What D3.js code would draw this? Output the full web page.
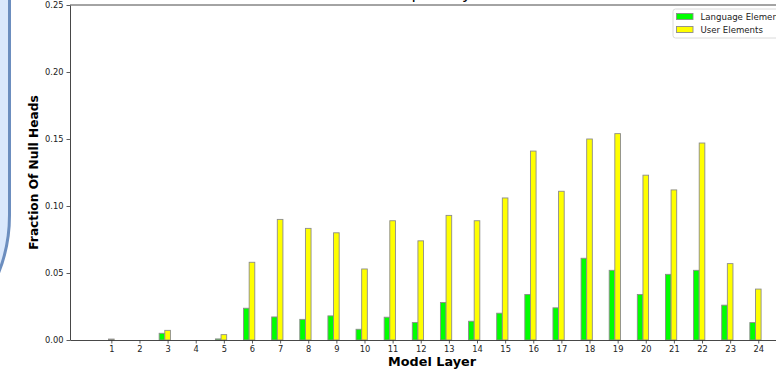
<!DOCTYPE html>
<html>
<head>
<meta charset="utf-8">
<script src="https://cdn.jsdelivr.net/npm/d3@7"></script>
<style>
  body { margin: 0; background: #fff; }
  svg { display: block; font-family: "DejaVu Sans", sans-serif; }
</style>
</head>
<body>
<svg id="chart" width="776" height="370"></svg>
<script>
// layers on the x axis
const layers = [1, 2, 3, 4, 5, 6, 7, 8, 9, 10, 11, 12, 13, 14, 15, 16, 17, 18, 19, 20, 21, 22, 23, 24];

// fraction of null heads per layer
const languageElements = [0, 0, 0.005, 0, 0.0008, 0.0237, 0.0172, 0.0154, 0.018, 0.008, 0.017, 0.013,
  0.028, 0.014, 0.020, 0.034, 0.024, 0.061, 0.052, 0.034, 0.049, 0.052, 0.026, 0.013];
const userElements = [0.0007, 0, 0.0072, 0, 0.004, 0.058, 0.090, 0.0833, 0.080, 0.053, 0.089, 0.074,
  0.093, 0.089, 0.106, 0.141, 0.111, 0.150, 0.154, 0.123, 0.112, 0.147, 0.057, 0.038];

const yTicks = [0, 0.05, 0.10, 0.15, 0.20, 0.25];
const seriesNames = ['Language Elements', 'User Elements'];
const seriesColors = ['#00ff00', '#ffff00'];

const svg = d3.select('#chart');

// decorative panel cut off at the left edge
svg.append('path')
  .attr('d', 'M-20,-10 H9.5 V215 A156,156 0 0 1 -20,306.3 Z')
  .attr('fill', '#dae8fc')
  .attr('stroke', '#6c8ebf')
  .attr('stroke-width', 3);

// plot area
const plotLeft = 70, plotRight = 794, plotTop = 5, plotBottom = 340;
const barW = 0.2;

const x = d3.scaleLinear().domain([-0.47, 25.27]).range([plotLeft, plotRight]);
const y = d3.scaleLinear().domain([0, 0.25]).range([plotBottom, plotTop]);

const g = svg.append('g');

// bars: green sits left of the tick, yellow centred on it
const series = [languageElements, userElements];
series.forEach((vals, si) => {
  g.selectAll('.bar-' + si)
    .data(layers)
    .enter()
    .append('rect')
    .attr('class', 'bar-' + si)
    .attr('x', d => x(d - barW * 1.5 + si * barW))
    .attr('width', x(barW) - x(0))
    .attr('y', (d, i) => y(vals[i]))
    .attr('height', (d, i) => y(0) - y(vals[i]))
    .attr('fill', seriesColors[si])
    .attr('stroke', '#8c8c8c')
    .attr('stroke-width', 0.9);
});

// axes
const xAxis = g.append('g')
  .attr('transform', `translate(0,${plotBottom})`)
  .call(d3.axisBottom(x).tickValues(layers).tickSize(3.5).tickSizeOuter(0).tickPadding(3));

const yAxis = g.append('g')
  .attr('transform', `translate(${plotLeft},0)`)
  .call(d3.axisLeft(y).tickValues(yTicks).tickFormat(d3.format('.2f')).tickSize(3.5).tickSizeOuter(0).tickPadding(3));

[xAxis, yAxis].forEach(a => {
  a.selectAll('text').attr('font-size', '8.3px').attr('fill', '#222').attr('font-family', '"DejaVu Sans", sans-serif');
  a.selectAll('line').attr('stroke', '#333').attr('stroke-width', 0.8);
  a.select('.domain').attr('stroke', '#333').attr('stroke-width', 0.9);
});

// top and right spines
g.append('line')
  .attr('x1', plotLeft).attr('x2', plotRight)
  .attr('y1', plotTop).attr('y2', plotTop)
  .attr('stroke', '#333').attr('stroke-width', 0.9);
g.append('line')
  .attr('x1', plotRight).attr('x2', plotRight)
  .attr('y1', plotTop).attr('y2', plotBottom)
  .attr('stroke', '#333').attr('stroke-width', 0.9);

// title, mostly above the visible area
svg.append('text')
  .attr('x', 404)
  .attr('y', -1.5)
  .attr('text-anchor', 'middle')
  .attr('font-size', '16px')
  .text('Null Heads per Layer');

// axis labels
svg.append('text')
  .attr('x', (plotLeft + plotRight) / 2)
  .attr('y', 366)
  .attr('text-anchor', 'middle')
  .attr('font-size', '12.8px')
  .attr('font-weight', 'bold')
  .text('Model Layer');

svg.append('text')
  .attr('transform', `translate(38,${(plotTop + plotBottom) / 2}) rotate(-90)`)
  .attr('text-anchor', 'middle')
  .attr('font-size', '12.2px')
  .attr('font-weight', 'bold')
  .text('Fraction Of Null Heads');

// legend
const legend = svg.append('g').attr('transform', 'translate(673,9)');
legend.append('rect')
  .attr('x', 0).attr('y', 0)
  .attr('width', 122).attr('height', 29)
  .attr('rx', 2.5)
  .attr('fill', '#fff').attr('fill-opacity', 0.8)
  .attr('stroke', '#d0d0d0').attr('stroke-width', 0.8);

seriesNames.forEach((name, i) => {
  const item = legend.append('g').attr('transform', `translate(0,${i * 13})`);
  item.append('rect')
    .attr('x', 3.5).attr('y', 4.5)
    .attr('width', 16.5).attr('height', 6)
    .attr('fill', seriesColors[i])
    .attr('stroke', '#8c8c8c').attr('stroke-width', 0.9);
  item.append('text')
    .attr('x', 27.5).attr('y', 10.8)
    .attr('font-size', '8.6px')
    .attr('fill', '#222')
    .text(name);
});
</script>
</body>
</html>
